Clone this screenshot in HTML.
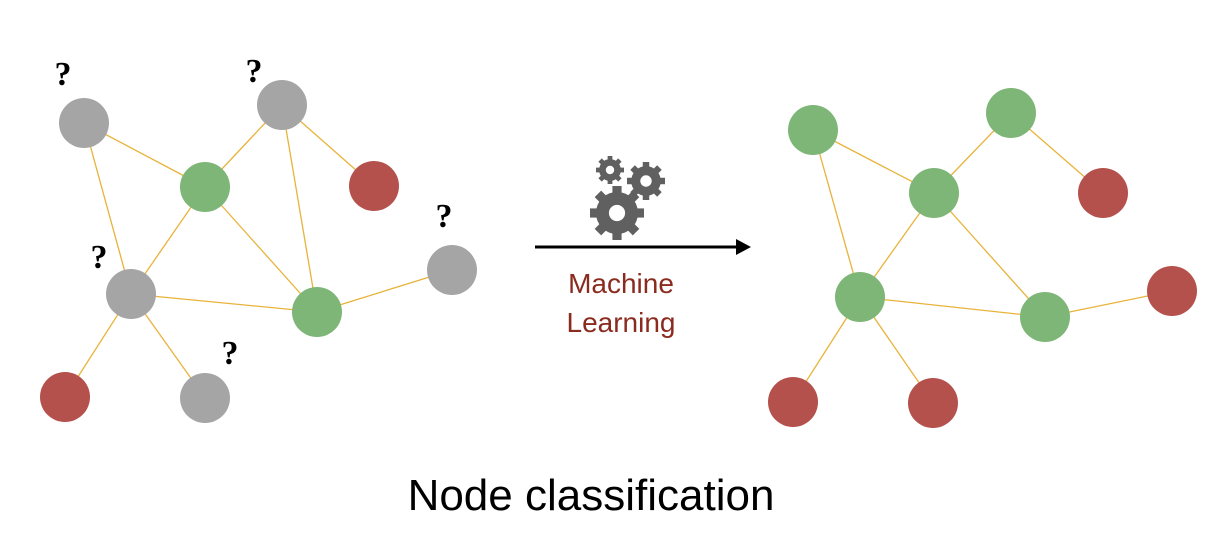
<!DOCTYPE html>
<html><head><style>body{margin:0;background:#fff;width:1230px;height:542px;overflow:hidden}</style></head>
<body>
<svg width="1230" height="542" xmlns="http://www.w3.org/2000/svg">
<defs>
<g id="gear"><circle r="0.78" fill="#606060"/>
<g fill="#606060">
<rect x="-0.17" y="-1" width="0.34" height="2"/>
<rect x="-0.17" y="-1" width="0.34" height="2" transform="rotate(45)"/>
<rect x="-0.17" y="-1" width="0.34" height="2" transform="rotate(90)"/>
<rect x="-0.17" y="-1" width="0.34" height="2" transform="rotate(135)"/>
</g><circle r="0.3" fill="#fff"/></g>
</defs>
<g stroke="#e8b33a" stroke-width="1.3">
<line x1="84" y1="123" x2="205" y2="187"/><line x1="84" y1="123" x2="131" y2="294"/>
<line x1="282" y1="105" x2="205" y2="187"/><line x1="282" y1="105" x2="374" y2="186"/>
<line x1="282" y1="105" x2="317" y2="312"/><line x1="205" y1="187" x2="131" y2="294"/>
<line x1="205" y1="187" x2="317" y2="312"/><line x1="131" y1="294" x2="317" y2="312"/>
<line x1="317" y1="312" x2="452" y2="270"/><line x1="131" y1="294" x2="65" y2="397"/>
<line x1="131" y1="294" x2="205" y2="398"/>
<line x1="813" y1="130" x2="934" y2="193"/><line x1="813" y1="130" x2="860" y2="297"/>
<line x1="1011" y1="113" x2="934" y2="193"/><line x1="1011" y1="113" x2="1103" y2="193"/>
<line x1="934" y1="193" x2="860" y2="297"/><line x1="934" y1="193" x2="1045" y2="317"/>
<line x1="860" y1="297" x2="1045" y2="317"/><line x1="1045" y1="317" x2="1172" y2="291"/>
<line x1="860" y1="297" x2="793" y2="402"/><line x1="860" y1="297" x2="933" y2="403"/>
</g>
<g>
<circle cx="84" cy="123" r="25" fill="#a5a5a5"/><circle cx="282" cy="105" r="25" fill="#a5a5a5"/>
<circle cx="205" cy="187" r="25" fill="#7eb677"/><circle cx="374" cy="186" r="25" fill="#b5514c"/>
<circle cx="452" cy="270" r="25" fill="#a5a5a5"/><circle cx="131" cy="294" r="25" fill="#a5a5a5"/>
<circle cx="317" cy="312" r="25" fill="#7eb677"/><circle cx="65" cy="397" r="25" fill="#b5514c"/>
<circle cx="205" cy="398" r="25" fill="#a5a5a5"/>
<circle cx="813" cy="130" r="25" fill="#7eb677"/><circle cx="1011" cy="113" r="25" fill="#7eb677"/>
<circle cx="934" cy="193" r="25" fill="#7eb677"/><circle cx="1103" cy="193" r="25" fill="#b5514c"/>
<circle cx="1172" cy="291" r="25" fill="#b5514c"/><circle cx="860" cy="297" r="25" fill="#7eb677"/>
<circle cx="1045" cy="317" r="25" fill="#7eb677"/><circle cx="793" cy="402" r="25" fill="#b5514c"/>
<circle cx="933" cy="403" r="25" fill="#b5514c"/>
</g>
<g font-family="Liberation Serif, serif" font-weight="bold" font-size="34" fill="#000" text-anchor="middle">
<text x="63" y="85">?</text><text x="254" y="82">?</text><text x="444" y="227">?</text>
<text x="99" y="268">?</text><text x="230" y="364">?</text>
</g>
<use href="#gear" transform="translate(617,213) scale(27)"/>
<use href="#gear" transform="translate(610,170) scale(14)"/>
<use href="#gear" transform="translate(646,181) scale(19)"/>
<line x1="535" y1="247" x2="738" y2="247" stroke="#000" stroke-width="3"/>
<polygon points="736,239 751,247 736,255" fill="#000"/>
<g font-family="Liberation Sans, sans-serif" font-size="28" fill="#8b2a1e" text-anchor="middle">
<text x="621" y="293">Machine</text><text x="621" y="332">Learning</text>
</g>
<text x="591" y="510" font-family="Liberation Sans, sans-serif" font-size="44" fill="#000" text-anchor="middle">Node classification</text>
</svg>
</body></html>
